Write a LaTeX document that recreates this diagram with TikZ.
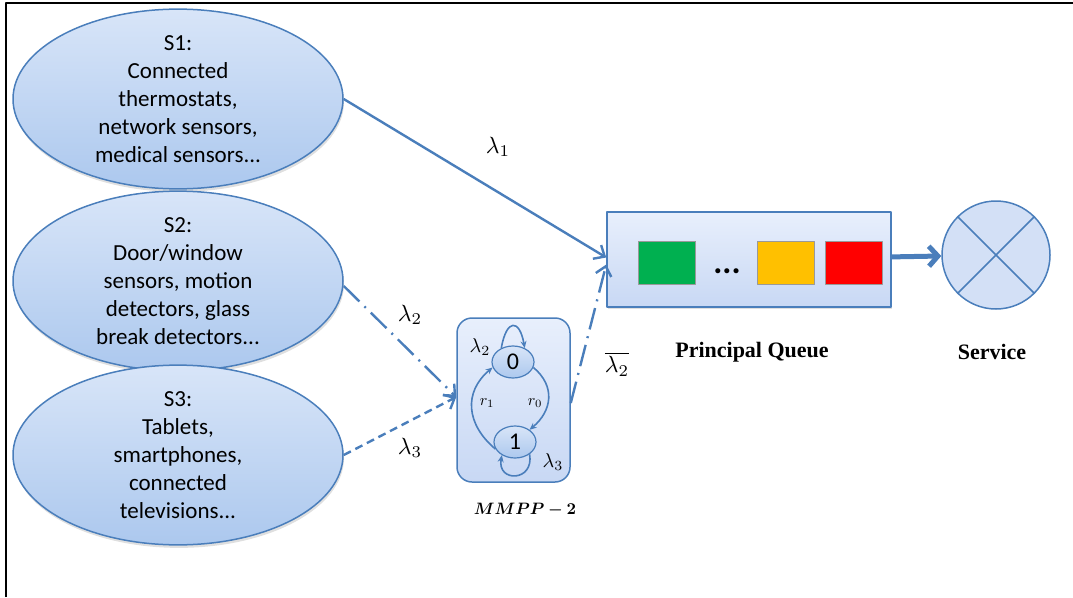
\documentclass[tikz,border=0pt]{standalone}
\usepackage{fontspec}
\setmainfont{Carlito}
\newfontfamily\capfont{Liberation Serif}
\usepackage{bm}
\usetikzlibrary{shapes.geometric,arrows.meta,shadows}

\definecolor{lineblue}{RGB}{74,126,187}
\definecolor{fillhi}{RGB}{216,229,248}
\definecolor{filllo}{RGB}{172,200,238}
\definecolor{boxhi}{RGB}{232,239,252}
\definecolor{boxlo}{RGB}{200,216,244}
\definecolor{qgreen}{RGB}{0,176,80}
\definecolor{qyellow}{RGB}{255,192,0}
\definecolor{qred}{RGB}{255,0,0}

\tikzstyle{source}=[ellipse, draw=lineblue, line width=1.5pt, top color=fillhi, bottom color=filllo,
  minimum width=330pt, minimum height=166pt, inner sep=0pt, align=center,
  font=\fontsize{23}{28}\selectfont,
  drop shadow={shadow xshift=1pt, shadow yshift=-3pt, opacity=0.25}]
\tikzstyle{queuebox}=[rectangle, draw=lineblue, line width=1.5pt, top color=boxhi, bottom color=boxlo,
  minimum width=284pt, minimum height=95pt,
  drop shadow={shadow xshift=1pt, shadow yshift=-2pt, opacity=0.25}]
\tikzstyle{packet}=[rectangle, draw=black!40, line width=0.6pt, minimum width=57pt, minimum height=43pt]
\tikzstyle{server}=[circle, draw=lineblue, line width=1.5pt, fill=boxlo!80!white, minimum size=108pt]
\tikzstyle{mmppbox}=[rectangle, rounded corners=15pt, draw=lineblue, line width=1.5pt,
  top color=boxhi, bottom color=boxlo, minimum width=113pt, minimum height=164pt]
\tikzstyle{state}=[ellipse, draw=lineblue, line width=1.2pt, top color=fillhi, bottom color=filllo,
  minimum width=42pt, minimum height=32pt, inner sep=0pt, font=\fontsize{24}{24}\selectfont]
\tikzstyle{flow}=[draw=lineblue, line width=2.4pt, -{Straight Barb[length=9pt,width=16pt]}]
\tikzstyle{hop}=[draw=lineblue, line width=1.6pt, -{Stealth[length=7pt,width=6pt]}]
\tikzstyle{serve}=[draw=lineblue, line width=5pt, -{Straight Barb[length=9pt,width=20pt]}]
\tikzstyle{dashdot}=[dash pattern=on 22pt off 7pt on 2pt off 7pt]
\tikzstyle{shortdash}=[dash pattern=on 8pt off 5pt]
\tikzstyle{rate}=[scale=2.35]
\tikzstyle{caption}=[font=\capfont\bfseries\fontsize{22}{26}\selectfont]

\begin{document}
\begin{tikzpicture}[x=1pt, y=1pt, line join=round]
\useasboundingbox (0,0) rectangle (1073,-597);
% Frame
    \draw[line width=1.2pt] (6,-597) -- (6,-3) -- (1073,-3);
% Sources
    \node[source] (s1) at (178,-99)  {S1:\\Connected\\thermostats,\\network sensors,\\medical sensors...};
    \node[source] (s2) at (178,-281) {S2:\\Door/window\\sensors, motion\\detectors, glass\\break detectors...};
    \node[source] (s3) at (178,-455) {S3:\\Tablets,\\smartphones,\\connected\\televisions...};
% Principal queue
    \node[queuebox] (queue) at (749,-259.5) {};
    \node[packet, fill=qgreen] (pkt1) at (667,-262.5) {};
    \node[font=\bfseries\fontsize{34}{34}\selectfont] (dots) at (727,-271) {...};
    \node[packet, fill=qyellow] (pkt2) at (785.5,-262.5) {};
    \node[packet, fill=qred] (pkt3) at (853.5,-262.5) {};
    \node[caption] (qlabel) at (752,-352) {Principal Queue};
% Server
    \node[server] (svc) at (996,-255) {};
    \draw[lineblue, line width=1.5pt] (svc.45) -- (svc.225) (svc.135) -- (svc.315);
    \node[caption] (slabel) at (992,-352) {Service};
    \draw[serve] (queue) -- (svc);
% MMPP-2 block
    \node[mmppbox] (mmpp) at (513.5,-400) {};
    \node[state] (q0) at (513,-362) {0};
    \node[state] (q1) at (515,-442) {1};
    \draw[hop] (q0.130) .. controls +(80:30) and +(100:30) .. (q0.50);
    \draw[hop] (q1.-40) .. controls +(-80:28) and +(-100:28) .. (q1.-135);
    \draw[hop] (q1.200) to[out=140, in=220, looseness=1.2] (q0.195);
    \draw[hop] (q0.-15) to[out=-40, in=40, looseness=1.2] (q1.40);
    \node[scale=2] (l0) at (480,-347) {$\lambda_2$};
    \node[scale=2] (l1) at (553,-462) {$\lambda_3$};
    \node[scale=1.6] (r1) at (487,-403) {$r_1$};
    \node[scale=1.6] (r0) at (535,-403) {$r_0$};
    \node[scale=1.65] (mlabel) at (525,-510) {$\bm{MMPP-2}$};
% Arrivals
    \draw[flow] (s1.east) -- ([yshift=2pt]queue.west);
    \draw[flow, dashdot] ([yshift=-5pt]s2.east) -- ([yshift=3pt]mmpp.west);
    \draw[flow, shortdash] (s3.east) -- ([yshift=3pt]mmpp.west);
    \draw[flow, dashdot] ([yshift=-3pt]mmpp.east) -- ([yshift=-5pt]queue.west);
    \node[rate] (lam1) at (498,-147) {$\lambda_1$};
    \node[rate] (lam2) at (410,-315) {$\lambda_2$};
    \node[rate] (lam3) at (410,-448) {$\lambda_3$};
    \node[rate] (lam4) at (617,-364) {$\overline{\lambda_2}$};
\end{tikzpicture}
\end{document}
